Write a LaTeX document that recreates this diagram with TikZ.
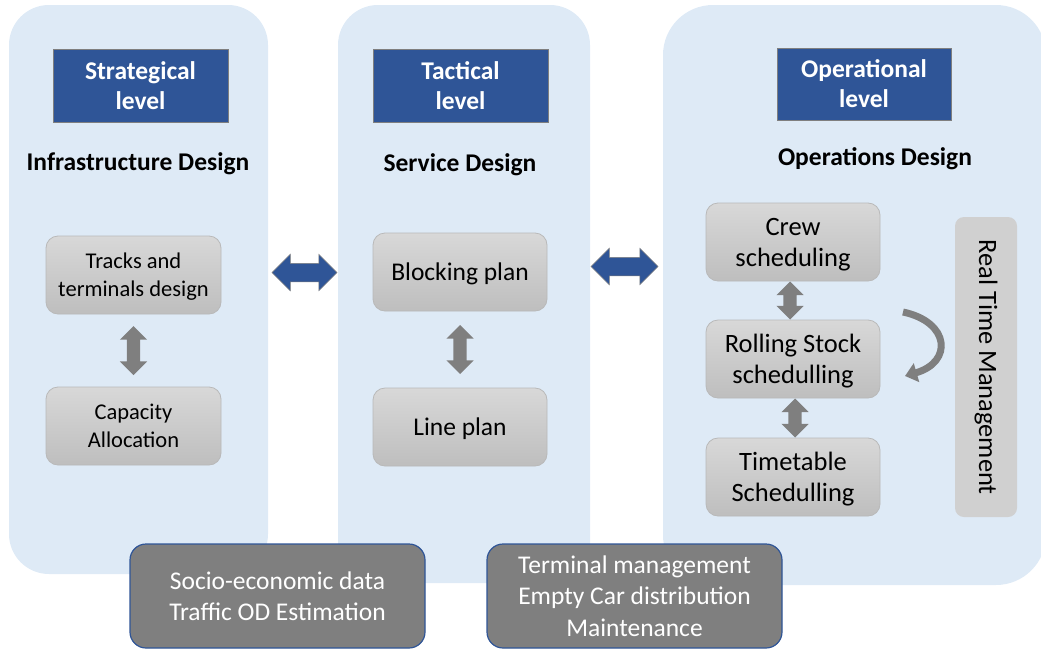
\documentclass[tikz,border=0pt]{standalone}
\usepackage{fontspec}
\setmainfont{Carlito}
\usetikzlibrary{shapes.arrows,arrows.meta,calc}

\definecolor{panelblue}{RGB}{222,234,246}
\definecolor{headblue}{RGB}{47,85,151}
\definecolor{boxtop}{RGB}{216,216,216}
\definecolor{boxbot}{RGB}{190,190,190}
\definecolor{boxline}{RGB}{185,185,185}
\definecolor{arrowgray}{RGB}{127,127,127}
\definecolor{darkbox}{RGB}{127,127,127}
\definecolor{rtmgray}{RGB}{208,208,208}

\tikzset{
  panel/.style={fill=panelblue, draw=none},
  header/.style={fill=headblue, draw=arrowgray, line width=1pt, text=white,
    font=\fontsize{25.5}{30}\selectfont\bfseries, align=center,
    minimum width=175pt, minimum height=73pt, inner sep=0pt},
  title/.style={font=\fontsize{25.5}{28}\selectfont\bfseries, inner sep=0pt},
  taskbox/.style={rounded corners=12pt, top color=boxtop, bottom color=boxbot,
    draw=boxline, line width=0.8pt, align=center, text depth=0pt,
    minimum width=175pt, minimum height=78pt, inner sep=0pt},
  infobox/.style={rounded corners=16pt, fill=darkbox, draw=headblue, line width=1.2pt,
    text=white, align=center, font=\fontsize{25.5}{31.5}\selectfont,
    minimum width=295pt, minimum height=104pt, inner sep=0pt},
  vlink/.style={double arrow, shape border rotate=90, fill=arrowgray, draw=none,
    inner sep=6.5pt, double arrow head extend=7pt},
  hlink/.style={double arrow, fill=headblue, draw=arrowgray, line width=0.5pt,
    inner sep=9pt, double arrow head extend=9pt},
}

\begin{document}
\begin{tikzpicture}[x=1pt,y=-1pt]
  \useasboundingbox (0,0) rectangle (1041,648);
  \clip (0,0) rectangle (1041,648);

  % level panels
  \fill[panel, rounded corners=40pt] (9,5) rectangle (268,574);
  \fill[panel, rounded corners=40pt] (338,5) rectangle (590,583);
  \fill[panel, rounded corners=50pt] (663,5) rectangle (1046,585);

  % headers
  \node[header] (strat) at (140.5,85.5) {Strategical\\level};
  \node[header] (tact)  at (460.5,85.5) {Tactical\\level};
  \node[header, minimum width=174pt, minimum height=72pt] (oper) at (864,84) {Operational\\level};

  \node[title] (infra) at (138,163.5) {Infrastructure Design};
  \node[title] (serv)  at (460,164.5) {Service Design};
  \node[title] (ops)   at (875,158.5) {Operations Design};

  % strategical tasks
  \node[taskbox, font=\fontsize{22.5}{28}\selectfont] (tracks) at (133.5,275) {Tracks and\\terminals design};
  \node[taskbox, font=\fontsize{22.5}{28}\selectfont] (capac)  at (133.5,426) {Capacity\\Allocation};

  % tactical tasks
  \node[taskbox, minimum width=174pt, font=\fontsize{25.5}{28}\selectfont] (block) at (460,272) {Blocking plan};
  \node[taskbox, minimum width=174pt, font=\fontsize{25.5}{28}\selectfont] (line)  at (460,427) {Line plan};

  % operational tasks
  \node[taskbox, minimum width=174pt, font=\fontsize{26.5}{31}\selectfont] (crew)  at (793,242) {Crew\\scheduling};
  \node[taskbox, minimum width=174pt, font=\fontsize{26.5}{31}\selectfont] (roll)  at (793,359) {Rolling Stock\\schedulling};
  \node[taskbox, minimum width=174pt, font=\fontsize{26.5}{31}\selectfont] (timet) at (793,477) {Timetable\\Schedulling};

  \node[rounded corners=9pt, fill=rtmgray, draw=none, minimum width=62pt, minimum height=300pt,
        inner sep=0pt] (rtm) at (986,367) {};
  \node[rotate=-90, font=\fontsize{26.5}{30}\selectfont] (rtmtext) at (rtm.center) {Real Time Management};

  % vertical links between tasks
  \node[vlink, minimum height=49pt] (l1) at ($(tracks.south)!0.5!(capac.north)$) {};
  \node[vlink, minimum height=49pt] (l2) at ($(block.south)!0.5!(line.north)$) {};
  \node[vlink, minimum height=38pt] (l3) at ($(crew.south)!0.5!(roll.north)+(-3,0)$) {};
  \node[vlink, minimum height=39pt] (l4) at ($(roll.south)!0.5!(timet.north)+(2,0)$) {};

  % links between levels
  \node[hlink, minimum height=65pt] (h1) at (304.5,272.5) {};
  \node[hlink, minimum height=67pt] (h2) at (624.5,266.5) {};

  % real-time feedback arrow
  \coordinate (cstart) at (903,312);
  \coordinate (cend) at (905,376);
  \draw[arrowgray, line width=7pt, -{Triangle[length=12pt,width=19pt]}]
    (cstart) .. controls (950,322) and (953,362) .. (cend);

  % supporting activities
  \node[infobox] (socio) at (277.5,596) {Socio-economic data\\Traffic OD Estimation};
  \node[infobox] (term)  at (634.5,596) {Terminal management\\Empty Car distribution\\Maintenance};
\end{tikzpicture}
\end{document}
